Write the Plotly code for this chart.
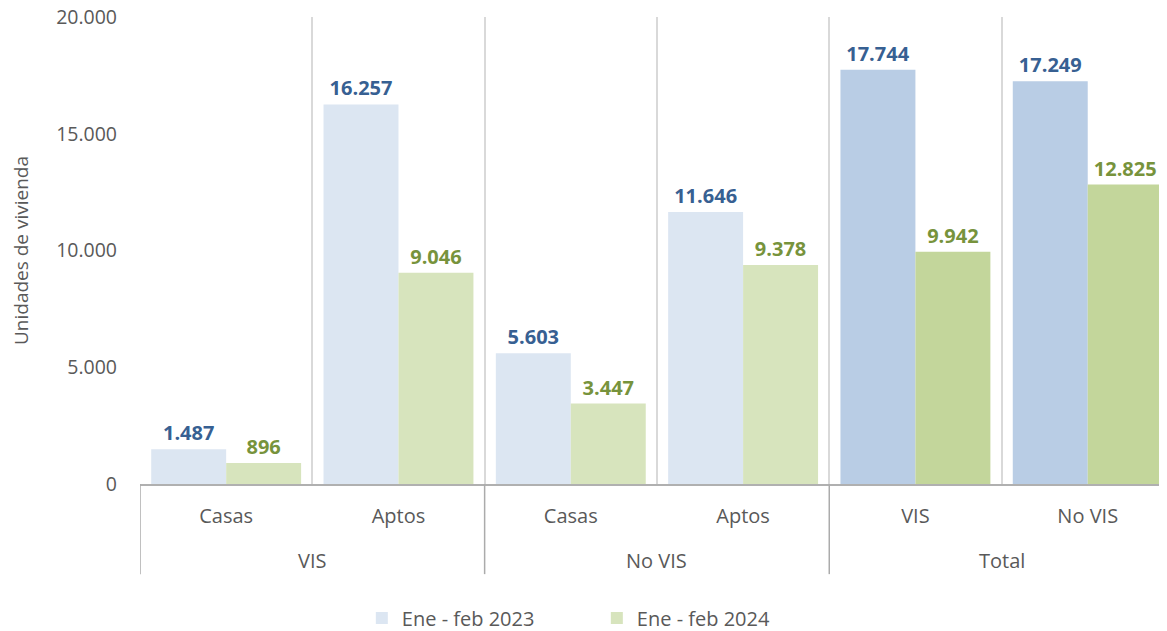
import plotly.graph_objects as go

# Data
grupos = ["VIS", "VIS", "No VIS", "No VIS", "Total", "Total"]
tipos = ["Casas", "Aptos", "Casas", "Aptos", "VIS", "No VIS"]
ene_feb_2023 = [1487, 16257, 5603, 11646, 17744, 17249]
ene_feb_2024 = [896, 9046, 3447, 9378, 9942, 12825]

# Colores: los totales van más oscuros
azul = ["#DCE6F2"] * 4 + ["#B9CDE5"] * 2
verde = ["#D7E4BD"] * 4 + ["#C3D69B"] * 2

pos = list(range(len(tipos)))
FUENTE = "Open Sans"
GRIS = "#595959"

fig = go.Figure()
fig.add_trace(go.Bar(
    x=pos, y=ene_feb_2023, name="Ene - feb 2023",
    marker=dict(color=azul, line=dict(width=0)),
    texttemplate="%{y:,d}", textposition="outside", cliponaxis=False,
    textfont=dict(color="#376092", size=20, family=FUENTE, weight="bold"),
))
fig.add_trace(go.Bar(
    x=pos, y=ene_feb_2024, name="Ene - feb 2024",
    marker=dict(color=verde, line=dict(width=0)),
    texttemplate="%{y:,d}", textposition="outside", cliponaxis=False,
    textfont=dict(color="#77933C", size=20, family=FUENTE, weight="bold"),
))

# Etiquetas del nivel superior (VIS / No VIS / Total) y divisores
orden = []
for g in grupos:
    if g not in orden:
        orden.append(g)
for g in orden:
    idx = [i for i, gg in enumerate(grupos) if gg == g]
    fig.add_annotation(x=sum(idx) / len(idx), y=-0.163, xref="x", yref="paper",
                       text=g, showarrow=False, yanchor="middle",
                       font=dict(size=20, color=GRIS, family=FUENTE))
    fig.add_shape(type="line", xref="x", yref="paper",
                  x0=idx[0] - 0.5, x1=idx[0] - 0.5, y0=0, y1=-0.193,
                  line=dict(color="#ABABAB", width=1.5))

fig.update_layout(
    width=1159, height=623,
    margin=dict(l=132, r=0, t=9, b=147),
    barmode="group", bargap=0.13, bargroupgap=0,
    separators=",.",
    plot_bgcolor="white", paper_bgcolor="white",
    font=dict(family=FUENTE, color=GRIS, size=20),
    legend=dict(orientation="h", x=0.216, xanchor="left",
                yref="container", y=0.021, yanchor="middle",
                font=dict(size=20), itemwidth=30, entrywidth=190),
    showlegend=True,
)
fig.update_xaxes(
    range=[-0.5, 5.46], tickvals=pos, ticktext=tipos, ticks="",
    showgrid=False, zeroline=False, automargin=False,
    minor=dict(tick0=0.5, dtick=1, showgrid=True, gridcolor="#D9D9D9", gridwidth=1.5, ticks=""),
    showline=True, linecolor="#B0B0B0", linewidth=1.5,
    tickfont=dict(size=20, color=GRIS), ticklabelstandoff=13,
)
fig.update_yaxes(
    range=[0, 20000], dtick=5000, tickformat=",d",
    showgrid=False, zeroline=False, showline=False, automargin=False,
    ticklabeloverflow="allow",
    tickfont=dict(size=19.5, color=GRIS), ticklabelstandoff=22,
    title=dict(text="Unidades de vivienda", font=dict(size=19, color=GRIS), standoff=26),
)

fig.write_html("out.html")
